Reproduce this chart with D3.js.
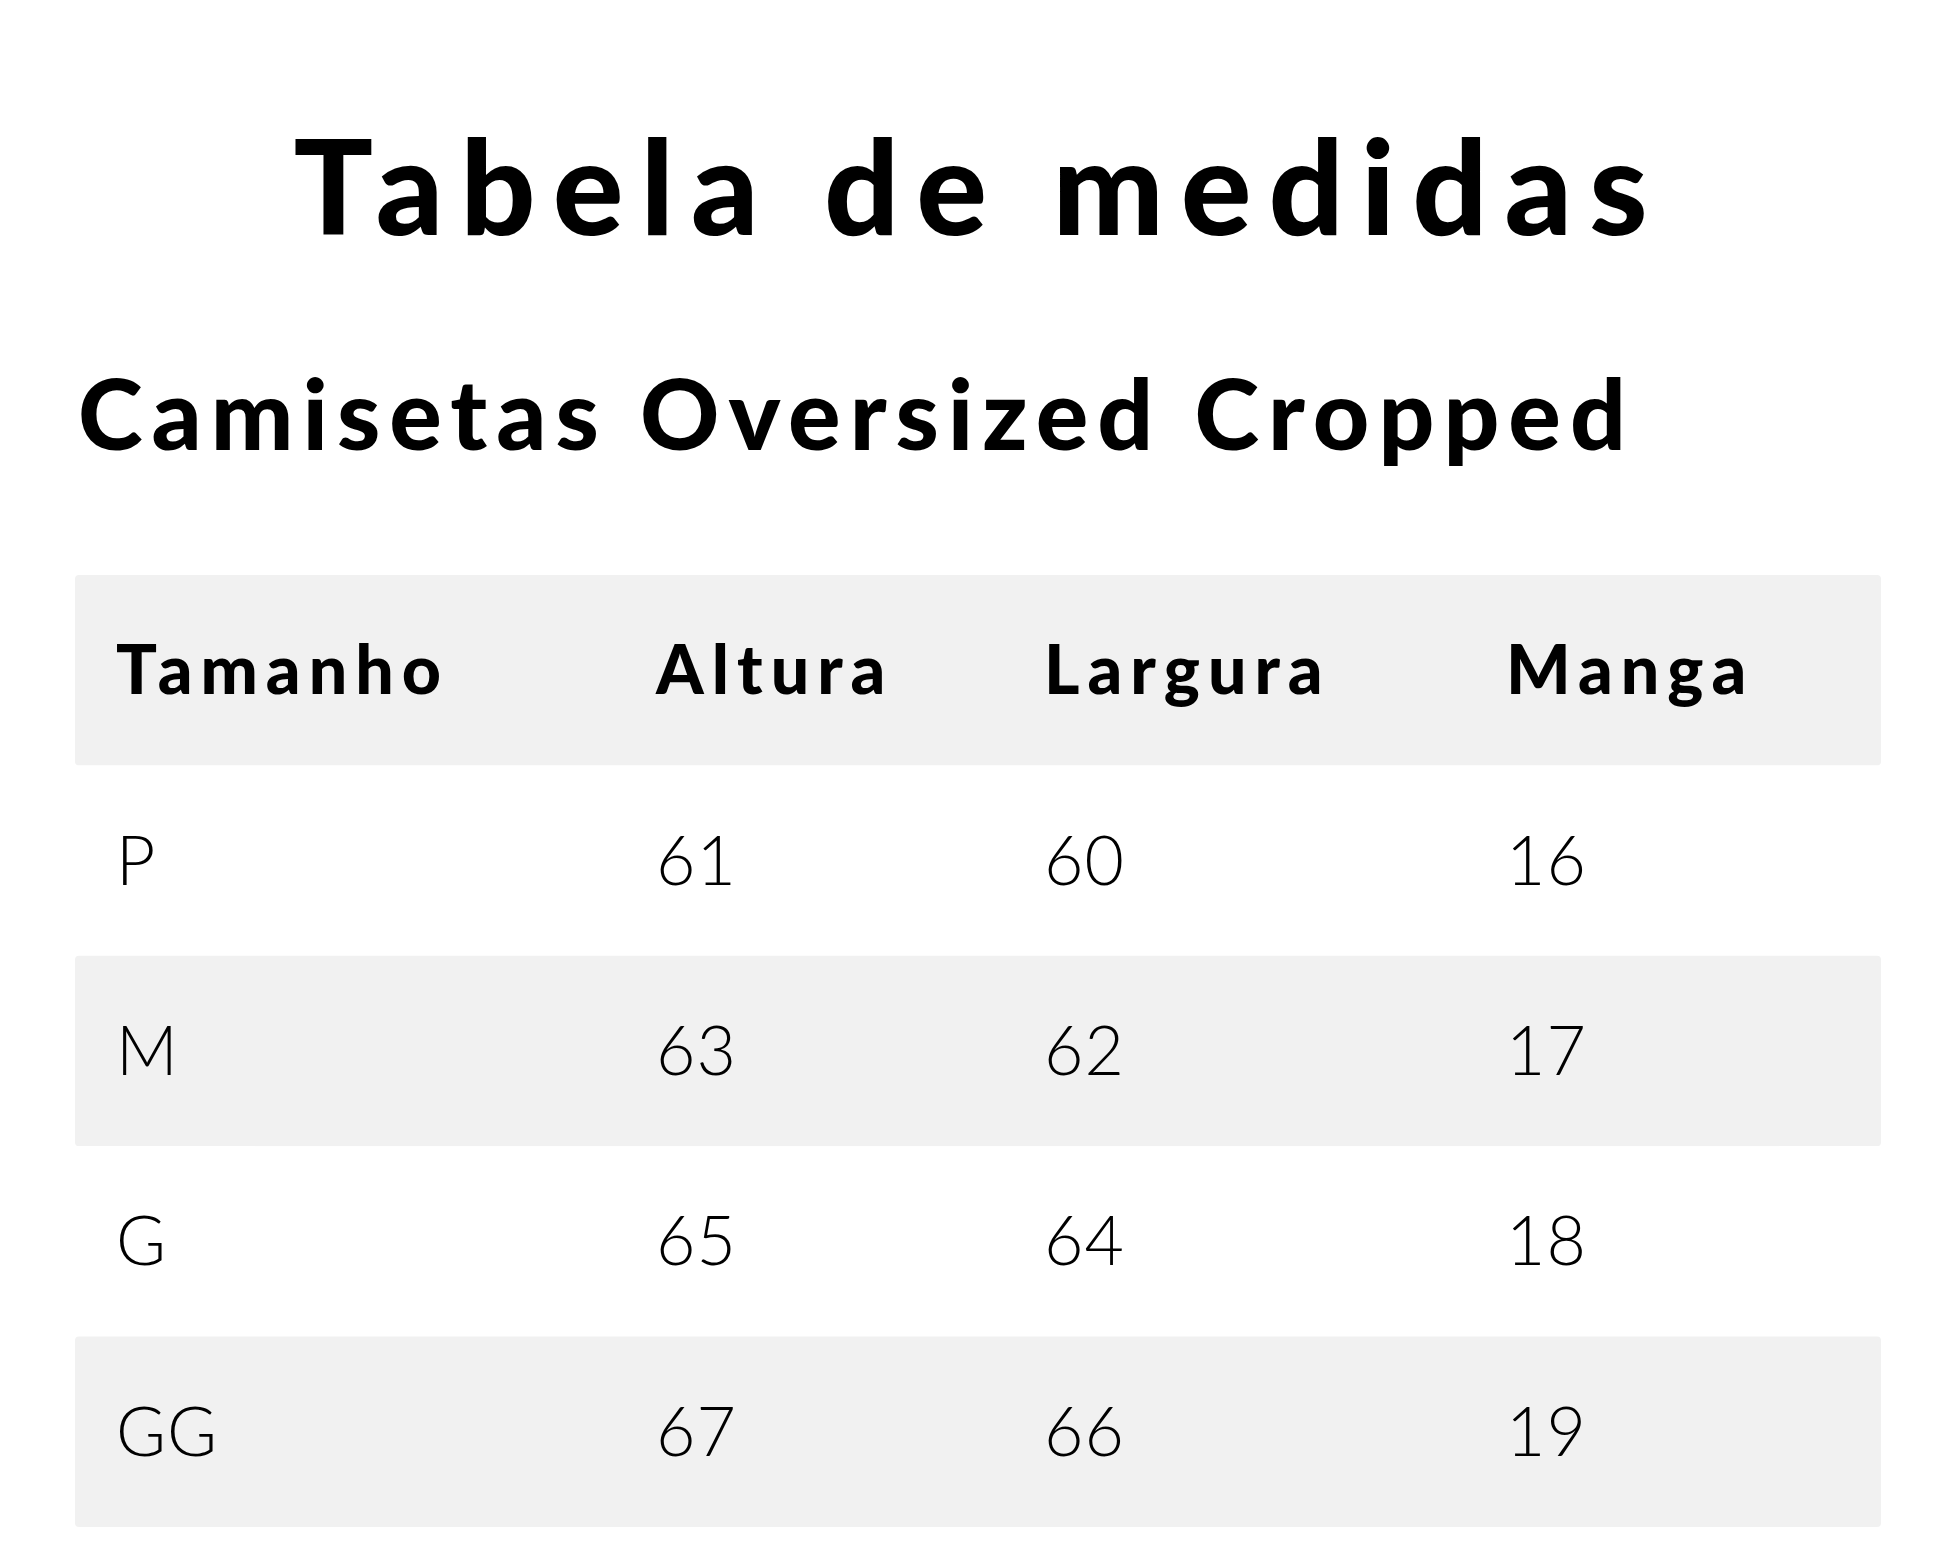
<!DOCTYPE html>
<html>
<head>
<meta charset="utf-8">
<script src="https://cdn.jsdelivr.net/npm/d3@7"></script>
<style>
  body { margin: 0; background: #fff; }
</style>
</head>
<body>
<svg width="1952" height="1566"></svg>
<script>
// table data
const title = "Tabela de medidas"
const subtitle = "Camisetas Oversized Cropped"
const columns = ["Tamanho", "Altura", "Largura", "Manga"]
const sizes = ["P", "M", "G", "GG"]
const altura = [61, 63, 65, 67]
const largura = [60, 62, 64, 66]
const manga = [16, 17, 18, 19]

const svg = d3.select("svg")
const font = "Lato, 'Noto Sans', sans-serif"

svg.append("text")
    .attr("x", 979).attr("y", 235)
    .attr("text-anchor", "middle")
    .attr("font-family", font).attr("font-weight", 900)
    .attr("font-size", 132)
    .attr("letter-spacing", 17)
    .text(title)

svg.append("text")
    .attr("x", 78).attr("y", 450)
    .attr("font-family", font).attr("font-weight", 900)
    .attr("font-size", 98)
    .attr("letter-spacing", 9)
    .text(subtitle)

// rows: header + data
const rows = [columns].concat(sizes.map((s, i) => [s, altura[i], largura[i], manga[i]]))

const yScale = d3.scaleBand()
    .domain(d3.range(rows.length))
    .range([575, 1527])

const xScale = d3.scaleOrdinal()
    .domain(columns)
    .range([116, 656, 1044, 1506])

const rowG = svg.selectAll("g.row")
    .data(rows)
    .join("g")
    .attr("class", "row")
    .attr("transform", (d, i) => `translate(0,${yScale(i)})`)

rowG.append("rect")
    .attr("x", 75)
    .attr("width", 1806)
    .attr("height", yScale.bandwidth())
    .attr("rx", 4)
    .attr("fill", (d, i) => i % 2 === 0 ? "#f1f1f1" : "#fff")

rowG.selectAll("text")
    .data((d, i) => d.map((v, j) => ({ v, col: columns[j], header: i === 0 })))
    .join("text")
    .attr("x", d => xScale(d.col))
    .attr("y", yScale.bandwidth() / 2 + 24)
    .attr("font-family", font)
    .attr("font-weight", d => d.header ? 900 : 300)
    .attr("font-size", 68)
    .attr("letter-spacing", d => d.header ? 8 : 1)
    .attr("fill", "#000")
    .text(d => d.v)
</script>
</body>
</html>
